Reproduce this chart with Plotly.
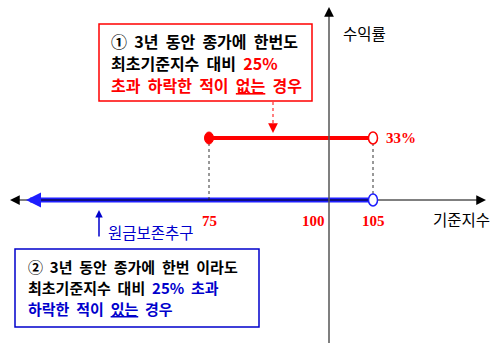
import plotly.graph_objects as go

# 데이터
barrier = 75          # 최초기준지수 대비 하락 한계
strike = 100
cap_level = 105
coupon = 33           # 수익률(%)
protect_start = 42.3  # 원금보존 구간 왼쪽 끝 (그림 기준)
tick_vals = [75, 100, 105]
tick_labels = ['75', '100', '105']

W, H = 496, 343
RED = '#FF0000'
BLUE = '#0000CC'
LINE_BLUE = '#1E1EFF'
KR = 'Noto Sans CJK KR'
SERIF = 'Liberation Serif'

# 그림 좌표: x 75->209px, 105->373px / y 0->200px, 33->138px
xr = [75 - 209 / (164 / 30), 75 + (W - 209) / (164 / 30)]
yr = [-(H - 200) / (62 / 33), 200 / (62 / 33)]


def px(p):
    return p / W


def py(p):
    return 1 - p / H


fig = go.Figure()

# 원금보존 (파란 선)
fig.add_scatter(x=[protect_start, cap_level], y=[0, 0], mode='lines',
                line=dict(color=LINE_BLUE, width=5), hoverinfo='skip')
# 수익 구간 (빨간 선)
fig.add_scatter(x=[barrier, cap_level], y=[coupon, coupon], mode='lines',
                line=dict(color=RED, width=4), hoverinfo='skip')
# 점선
for xv in [barrier, cap_level]:
    fig.add_scatter(x=[xv, xv], y=[0, coupon], mode='lines',
                    line=dict(color='#333333', width=1, dash='dot'), hoverinfo='skip')

shapes = []
# 가로축
shapes.append(dict(type='line', xref='paper', yref='y', x0=px(16), x1=px(480), y0=0, y1=0,
                   line=dict(color='black', width=1)))
# 세로축
shapes.append(dict(type='line', xref='paper', yref='paper', x0=px(329), x1=px(329),
                   y0=0, y1=py(14), line=dict(color='#555555', width=1.5)))
# 원 표시
shapes.append(dict(type='circle', xref='x', yref='y', xsizemode='pixel', ysizemode='pixel',
                   xanchor=barrier, yanchor=coupon, x0=-4.5, x1=4.5, y0=-6, y1=6,
                   fillcolor=RED, line=dict(color=RED, width=1)))
shapes.append(dict(type='circle', xref='x', yref='y', xsizemode='pixel', ysizemode='pixel',
                   xanchor=cap_level, yanchor=coupon, x0=-4.5, x1=4.5, y0=-6, y1=6,
                   fillcolor='white', line=dict(color=RED, width=1.5)))
shapes.append(dict(type='circle', xref='x', yref='y', xsizemode='pixel', ysizemode='pixel',
                   xanchor=cap_level, yanchor=0, x0=-4.5, x1=4.5, y0=-6, y1=6,
                   fillcolor='white', line=dict(color=LINE_BLUE, width=1.5)))
# 상자
shapes.append(dict(type='rect', xref='paper', yref='paper', x0=px(99), x1=px(312),
                   y0=py(101), y1=py(24), line=dict(color=RED, width=1.5)))
shapes.append(dict(type='rect', xref='paper', yref='paper', x0=px(15), x1=px(259),
                   y0=py(327), y1=py(249), line=dict(color=BLUE, width=1.5)))
# 빨간 점선 화살표 몸통
shapes.append(dict(type='line', xref='paper', yref='paper', x0=px(273), x1=px(273),
                   y0=py(102), y1=py(125), line=dict(color=RED, width=1, dash='dot')))

anns = []


def arrow(x, y, ax, ay, color, size=1.2, width=1):
    anns.append(dict(xref='paper', yref='paper', axref='pixel', ayref='pixel',
                     x=px(x), y=py(y), ax=ax, ay=ay, text='', showarrow=True,
                     arrowhead=2, arrowsize=size, arrowwidth=width, arrowcolor=color))


arrow(486, 200, -8, 0, 'black', 1.3, 1.5)
arrow(10, 200, 8, 0, 'black', 1.3, 1.5)
arrow(26, 200, 8, 0, LINE_BLUE, 1.0, 3)
arrow(329, 7, 0, 8, 'black', 1.3, 1.5)
arrow(273, 133, 0, -8, RED, 1.3, 1.5)
arrow(99, 210, 0, 28, BLUE, 1.0, 1.5)


def text(x, y, s, color='black', size=15.5, font=KR, anchor='left'):
    anns.append(dict(xref='paper', yref='paper', x=px(x), y=py(y), text=s, showarrow=False,
                     xanchor=anchor, yanchor='middle',
                     font=dict(family=font, size=size, color=color)))


# 눈금 라벨
tick_px = {75: 209, 100: 313, 105: 373}
for v, lab in zip(tick_vals, tick_labels):
    text(tick_px[v], 221, '<b>' + lab + '</b>', RED, 15, SERIF, 'center')
text(384, 138, '<b>%d%%</b>' % coupon, RED, 15, SERIF)
text(341, 33, '수익률', 'black', 15.5)
text(431, 219, '기준지수', 'black', 15.5)
text(106, 232, '원금보존추구', BLUE, 15.5)

# 빨간 상자 문구
text(109, 41, '<b>①  3년  동안  종가에  한번도</b>', size=16)
text(109, 63, "<b>최초기준지수  대비  <span style='color:%s'>25%%</span></b>" % RED, size=16)
text(109, 85, '<b>초과  하락한  적이  <u>없는</u>  경우</b>', RED, size=16)

# 파란 상자 문구
text(26, 266, '<b>②  3년  동안  종가에  한번  이라도</b>', size=15)
text(26, 287, "<b>최초기준지수  대비  <span style='color:%s'>25%%  초과</span></b>" % BLUE, size=15)
text(26, 308, '<b>하락한  적이  <u>있는</u>  경우</b>', BLUE, size=15)

fig.update_layout(
    width=W, height=H,
    margin=dict(l=0, r=0, t=0, b=0),
    plot_bgcolor='white', paper_bgcolor='white',
    showlegend=False,
    xaxis=dict(range=xr, visible=False, fixedrange=True),
    yaxis=dict(range=yr, visible=False, fixedrange=True),
    shapes=shapes,
    annotations=anns,
)

# body 기본 여백 제거
fig.write_html("out.html", post_script="document.body.style.margin='0';",
               config={'displayModeBar': False})
